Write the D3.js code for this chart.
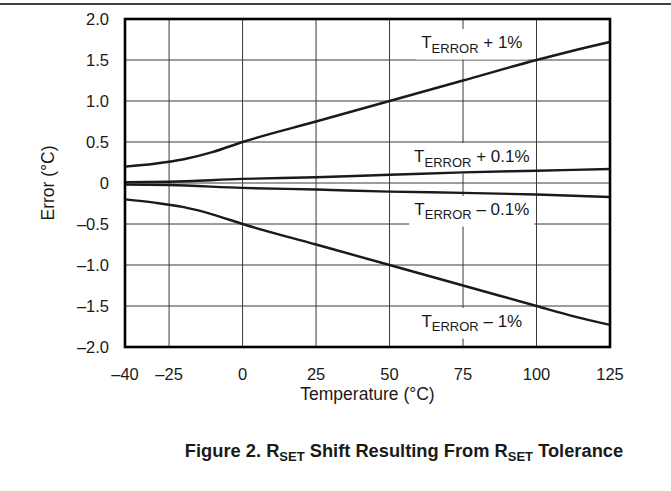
<!DOCTYPE html>
<html lang="en">
<head>
<meta charset="UTF-8">
<title>RSET Shift Resulting From RSET Tolerance</title>
<script src="https://d3js.org/d3.v7.min.js"></script>
<style>
  body { margin: 0; background: #fff; }
  svg text { font-family: "Liberation Sans", Arial, Helvetica, sans-serif; fill: #1a1a1a; }
</style>
</head>
<body>
<svg id="chart" width="671" height="491"></svg>
<script>
// data
const tempsOnePct = [-40, -30, -20, -10, 0, 25, 50, 75, 100, 112, 125];
const plusOnePct  = [0.20, 0.235, 0.29, 0.38, 0.50, 0.75, 1.00, 1.25, 1.50, 1.61, 1.72];
const minusOnePct = [-0.20, -0.24, -0.295, -0.385, -0.50, -0.75, -1.00, -1.25, -1.50, -1.62, -1.73];

const tempsTenthPct = [-40, -25, 0, 25, 50, 75, 100, 125];
const plusTenthPct  = [0.01, 0.015, 0.05, 0.07, 0.10, 0.13, 0.15, 0.17];
const minusTenthPct = [-0.02, -0.025, -0.06, -0.08, -0.105, -0.12, -0.14, -0.17];

const xTicks = [-40, -25, 0, 25, 50, 75, 100, 125];
const yTicks = [-2.0, -1.5, -1.0, -0.5, 0, 0.5, 1.0, 1.5, 2.0];
const seriesLabels = ["+ 1%", "+ 0.1%", "\u2013 0.1%", "\u2013 1%"];

const svg = d3.select("#chart");
const mLeft = 125, mRight = 610, mTop = 19, mBottom = 347;

const x = d3.scaleLinear().domain([-40, 125]).range([mLeft, mRight]);
const y = d3.scaleLinear().domain([-2, 2]).range([mBottom, mTop]);

// top rule
svg.append("line")
  .attr("x1", 0).attr("x2", 671).attr("y1", 4).attr("y2", 4)
  .attr("stroke", "#000").attr("stroke-width", 1.3);

// grid
const grid = svg.append("g");
grid.selectAll(".vg").data(xTicks.slice(1, -1)).join("line")
  .attr("x1", d => x(d)).attr("x2", d => x(d))
  .attr("y1", mTop).attr("y2", mBottom)
  .attr("stroke", "#3a3a3a").attr("stroke-width", 1);
grid.selectAll(".hg").data(yTicks.slice(1, -1)).join("line")
  .attr("x1", mLeft).attr("x2", mRight)
  .attr("y1", d => y(d)).attr("y2", d => y(d))
  .attr("stroke", "#3a3a3a").attr("stroke-width", 1);

// series labels with white boxes behind
const minus = "\u2013";
const labelSpots = [[78, 1.646], [78, 0.256], [78, -0.39], [78, -1.756]];
const labelLayer = svg.append("g");
seriesLabels.forEach((lbl, i) => {
  const g = labelLayer.append("g");
  const t = g.append("text")
    .attr("x", x(labelSpots[i][0])).attr("y", y(labelSpots[i][1]))
    .attr("text-anchor", "middle").style("font-size", "17px");
  t.append("tspan").text("T");
  t.append("tspan").attr("dy", 4.5).style("font-size", "13px").text("ERROR");
  t.append("tspan").attr("dy", -4.5).text(" " + lbl);
  const b = t.node().getBBox();
  g.insert("rect", "text")
    .attr("x", b.x - 5).attr("y", b.y - 4)
    .attr("width", b.width + 10).attr("height", b.height + 8)
    .attr("fill", "#fff");
});

// curves
const line = d3.line().curve(d3.curveMonotoneX);
const curves = [
  [tempsOnePct, plusOnePct],
  [tempsTenthPct, plusTenthPct],
  [tempsTenthPct, minusTenthPct],
  [tempsOnePct, minusOnePct]
];
svg.append("g").selectAll("path").data(curves).join("path")
  .attr("d", c => line(c[0].map((t, k) => [x(t), y(c[1][k])])))
  .attr("fill", "none").attr("stroke", "#1a1a1a").attr("stroke-width", 2.4);

// frame
svg.append("rect")
  .attr("x", mLeft).attr("y", mTop)
  .attr("width", mRight - mLeft).attr("height", mBottom - mTop)
  .attr("fill", "none").attr("stroke", "#000").attr("stroke-width", 2.6);

// tick labels
const fmtY = d => d === 0 ? "0" : d3.format(".1f")(d).replace("-", minus).replace("\u2212", minus);
svg.append("g").selectAll("text").data(yTicks).join("text")
  .attr("x", mLeft - 16).attr("y", d => y(d) + 6)
  .attr("text-anchor", "end").style("font-size", "16.5px")
  .text(fmtY);
svg.append("g").selectAll("text").data(xTicks).join("text")
  .attr("x", d => x(d)).attr("y", 380)
  .attr("text-anchor", "middle").style("font-size", "16.5px")
  .text(d => String(d).replace("-", minus));

// axis titles
svg.append("text")
  .attr("x", x(42.5)).attr("y", 400)
  .attr("text-anchor", "middle").style("font-size", "17.5px")
  .text("Temperature (\u00B0C)");
svg.append("text")
  .attr("transform", `translate(54,${y(0)}) rotate(-90)`)
  .attr("text-anchor", "middle").style("font-size", "17.5px")
  .text("Error (\u00B0C)");

// figure caption
const cap = svg.append("text")
  .attr("x", 404).attr("y", 457)
  .attr("text-anchor", "middle")
  .style("font-size", "18.3px").style("font-weight", "bold");
cap.append("tspan").text("Figure 2. R");
cap.append("tspan").attr("dy", 3.5).style("font-size", "13px").text("SET");
cap.append("tspan").attr("dy", -3.5).text(" Shift Resulting From R");
cap.append("tspan").attr("dy", 3.5).style("font-size", "13px").text("SET");
cap.append("tspan").attr("dy", -3.5).text(" Tolerance");
</script>
</body>
</html>
